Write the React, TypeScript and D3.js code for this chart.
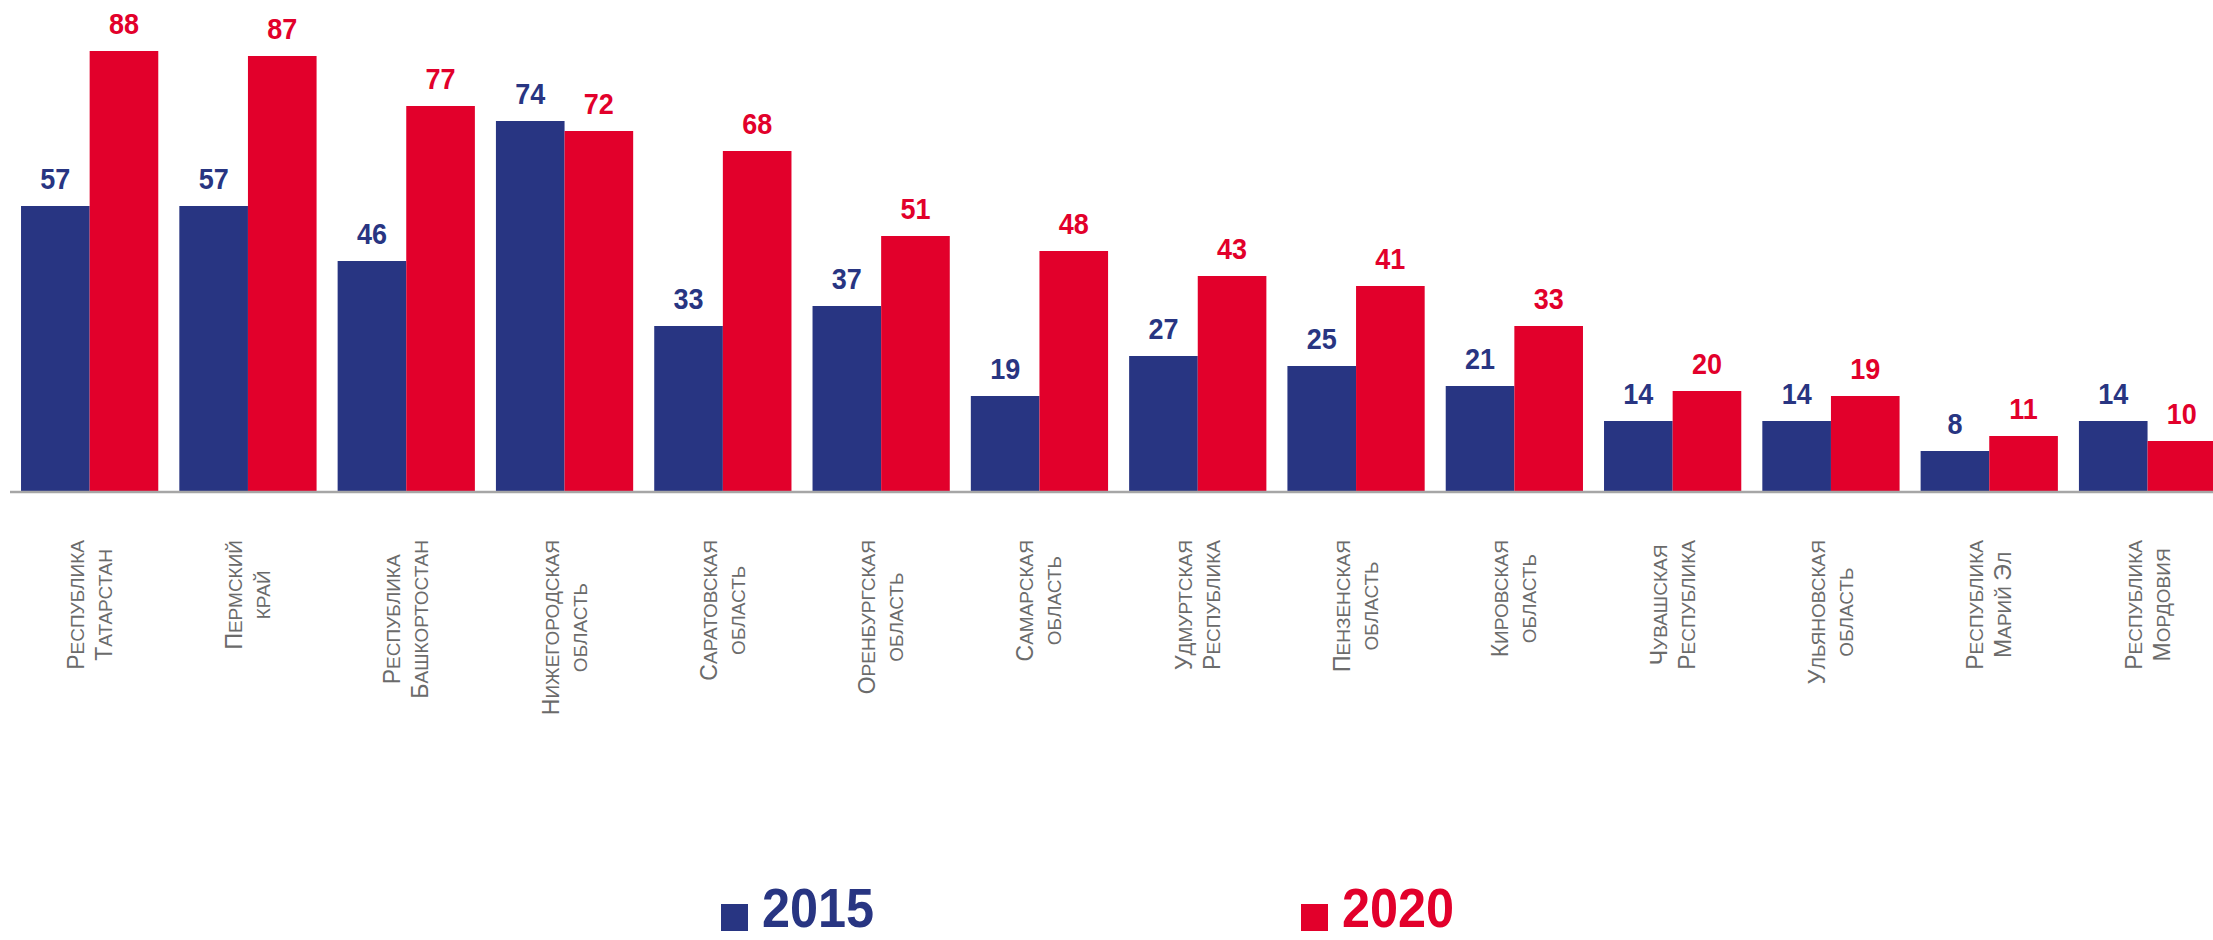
import React, { useEffect, useRef } from 'react';
import { scaleBand, scaleLinear, select } from 'd3';

const categories = [
  ['Республика', 'Татарстан'],
  ['Пермский', 'край'],
  ['Республика', 'Башкортостан'],
  ['Нижегородская', 'область'],
  ['Саратовская', 'область'],
  ['Оренбургская', 'область'],
  ['Самарская', 'область'],
  ['Удмуртская', 'Республика'],
  ['Пензенская', 'область'],
  ['Кировская', 'область'],
  ['Чувашская', 'Республика'],
  ['Ульяновская', 'область'],
  ['Республика', 'Марий Эл'],
  ['Республика', 'Мордовия'],
];
const values2015 = [57, 57, 46, 74, 33, 37, 19, 27, 25, 21, 14, 14, 8, 14];
const values2020 = [88, 87, 77, 72, 68, 51, 48, 43, 41, 33, 20, 19, 11, 10];
const seriesNames = ['2015', '2020'];

const BLUE = '#283582';
const RED = '#e2002b';
const W = 2213, H = 940;
const baseY = 491;
const boldFont = 'Arial, "Liberation Sans", sans-serif';

// split a line into runs of real capitals and small capitals
const runs = (s: string) => {
  const out: { t: string; big: boolean }[] = [];
  for (const ch of s) {
    const big = ch !== ch.toLowerCase();
    const last = out[out.length - 1];
    if (last && last.big === big) last.t += ch.toUpperCase();
    else out.push({ t: ch.toUpperCase(), big });
  }
  return out;
};

export default function App() {
  const svgRef = useRef<SVGSVGElement>(null);

  const keys = categories.map((c) => c.join(' '));
  const x = scaleBand().domain(keys).range([10.5, 10.5 + 14 * 158.3]).paddingInner(0.133).paddingOuter(0.0665);
  const x1 = scaleBand().domain(seriesNames).range([0, x.bandwidth()]);
  const y = scaleLinear().domain([0, 98.2]).range([baseY, 0]);
  const series = [values2015, values2020];
  const colors = [BLUE, RED];

  useEffect(() => {
    const svg = select(svgRef.current);
    const labels = svg.select('.x-labels');
    labels.selectAll('*').remove();
    categories.forEach((lines, i) => {
      const cx = (x(keys[i]) as number) + x.bandwidth() / 2;
      const g = labels.append('g');
      const texts = lines.map((l, j) => {
        const t = g.append('text')
          .attr('text-anchor', 'middle')
          .attr('y', (j === 0 ? -14 : 14) + 8)
          .style('font-family', 'Arial, "Liberation Sans", sans-serif')
          .attr('fill', '#6b6b6b');
        runs(l).forEach((r) => {
          t.append('tspan').style('font-size', r.big ? '23px' : '19px').text(r.t);
        });
        return t;
      });
      const maxLen = Math.max(...texts.map((t) => (t.node() as SVGTextElement).getComputedTextLength()));
      g.attr('transform', `translate(${cx}, ${540 + maxLen / 2}) rotate(-90)`);
    });
  }, []);

  return (
    <svg ref={svgRef} width={W} height={H} style={{ position: 'absolute', left: 0, top: 0, background: '#fff' }}>
      {series.map((vals, s) => (
        <g key={s}>
          {vals.map((v, i) => {
            const bx = (x(keys[i]) as number) + (x1(seriesNames[s]) as number);
            return (
              <g key={i}>
                <rect x={bx} y={y(v)} width={x1.bandwidth()} height={baseY - y(v)} fill={colors[s]} />
                <text
                  transform={`translate(${bx + x1.bandwidth() / 2}, ${y(v) - 17}) scale(0.9, 1)`}
                  textAnchor="middle"
                  fill={colors[s]}
                  style={{ fontFamily: boldFont, fontWeight: 'bold', fontSize: 30 }}
                >
                  {v}
                </text>
              </g>
            );
          })}
        </g>
      ))}
      <line x1={10} x2={W} y1={baseY + 1} y2={baseY + 1} stroke="#a6a6a6" strokeWidth={2.5} />
      <g className="x-labels" />
      <g className="legend">
        {seriesNames.map((name, s) => {
          const lx = s === 0 ? 721 : 1301;
          return (
            <g key={name}>
              <rect x={lx} y={904} width={27} height={27} fill={colors[s]} />
              <text
                transform={`translate(${lx + 41}, 927) scale(0.9, 1)`}
                fill={colors[s]}
                style={{ fontFamily: boldFont, fontWeight: 'bold', fontSize: 56 }}
              >
                {name}
              </text>
            </g>
          );
        })}
      </g>
    </svg>
  );
}
